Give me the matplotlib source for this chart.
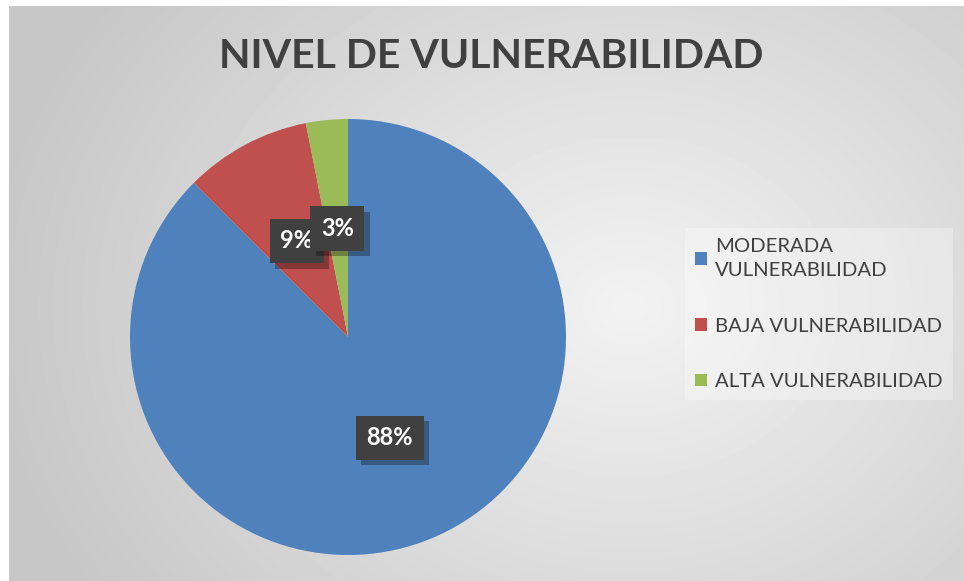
import numpy as np
import matplotlib.pyplot as plt
import matplotlib.patheffects as pe
from matplotlib.patches import Patch

categories = ["MODERADA\nVULNERABILIDAD", "BAJA VULNERABILIDAD", "ALTA VULNERABILIDAD"]
shares = [87.5, 9.4, 3.1]
colors = ["#4F81BD", "#C0504D", "#9BBB59"]

plt.rcParams['font.family'] = ['Lato', 'DejaVu Sans']

W, H = 964, 581
fig = plt.figure(figsize=(W / 100, H / 100), dpi=100)

# radial grey background of the chart area
bg = fig.add_axes([9 / W, 0, (W - 9) / W, (H - 6) / H])
yy, xx = np.mgrid[0:575, 0:955]
r = np.hypot((xx - 620) / 640, (yy - 300) / 520)
r = np.clip(r, 0, 1)
shade = 0.95 - 0.17 * r
bg.imshow(shade, cmap='gray', vmin=0, vmax=1, aspect='auto', interpolation='bilinear')
bg.axis('off')

# pie
ax = fig.add_axes([130 / W, 26 / H, 436 / W, 436 / H])
wedges, texts, autotexts = ax.pie(
    shares, colors=colors, startangle=90, counterclock=False,
    autopct=lambda p: f"{p:.0f}%", pctdistance=0.5,
    textprops=dict(color='white', fontsize=17, fontweight='bold'))
ax.set_xlim(-1, 1)
ax.set_ylim(-1, 1)
ax.set_aspect('equal')
for t in autotexts:
    t.set_bbox(dict(boxstyle='square,pad=0.45', facecolor='#404040', edgecolor='none'))
    t.get_bbox_patch().set_path_effects(
        [pe.SimplePatchShadow(offset=(4, -4), shadow_rgbFace='black', alpha=0.3), pe.Normal()])

fig.text(491 / W, 1 - 57 / H, "NIVEL DE VULNERABILIDAD", ha='center', va='center',
         fontsize=29.5, fontweight='bold', color='#404040')

handles = [Patch(facecolor=c, edgecolor='none') for c in colors]
leg = fig.legend(handles, categories, loc='upper left', bbox_to_anchor=(685 / W, 1 - 228 / H),
                 frameon=True, fontsize=14.6, labelcolor='#404040', handlelength=0.6,
                 handleheight=0.6, handletextpad=0.4, labelspacing=1.9, borderpad=0.5,
                 borderaxespad=0, fancybox=False)
for t in leg.get_texts():
    t.set_linespacing(1.5)
leg.get_frame().set_facecolor('white')
leg.get_frame().set_alpha(0.3)
leg.get_frame().set_edgecolor('none')

fig.savefig('out.png', dpi=100)
